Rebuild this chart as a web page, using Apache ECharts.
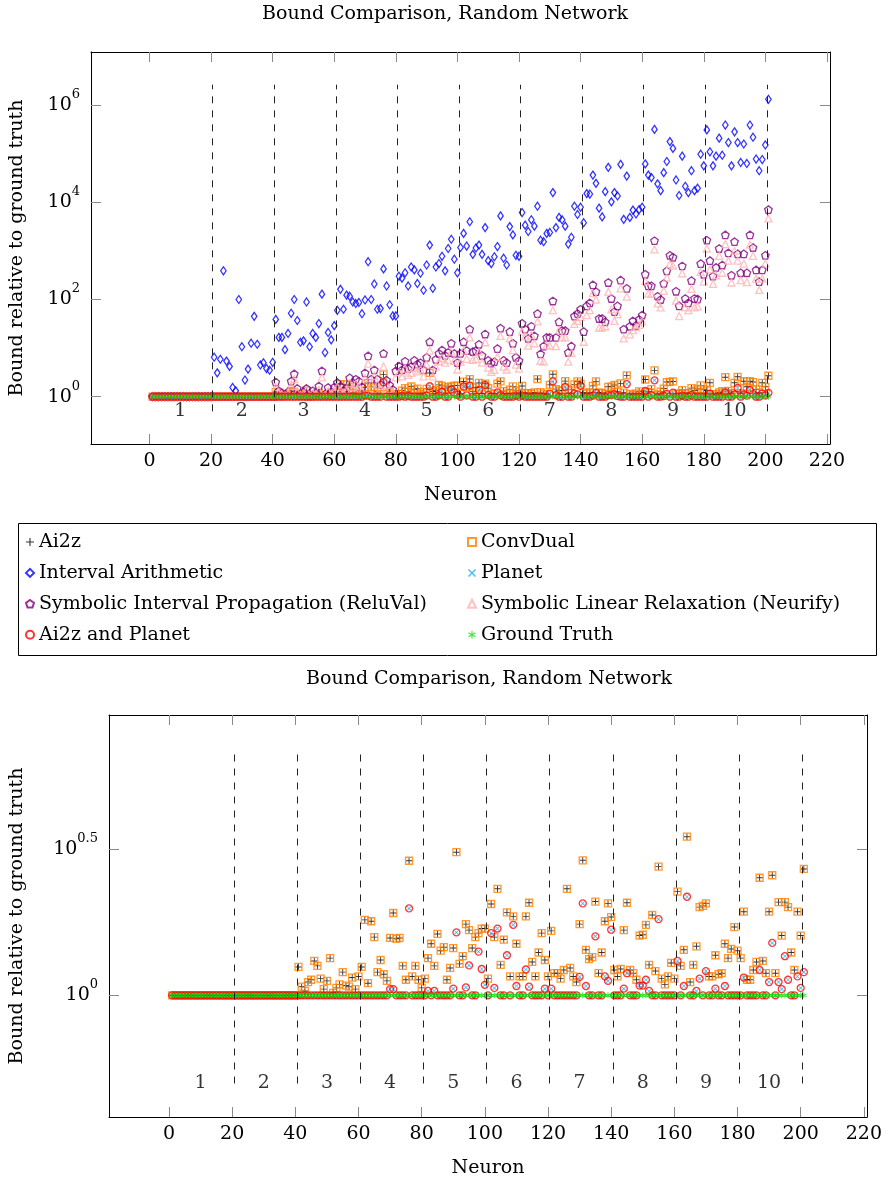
<!DOCTYPE html>
<html>
<head>
<meta charset="utf-8">
<script src="https://cdn.jsdelivr.net/npm/echarts@6/dist/echarts.min.js"></script>
<style>
  html, body { margin: 0; padding: 0; background: #ffffff; }
  #chart { width: 892px; height: 1184px; }
</style>
</head>
<body>
<div id="chart"></div>
<script>
// ---------------------------------------------------------------------------
// Bound on each neuron divided by the exact (ground-truth) bound.
// Neurons 1..201: ten hidden layers of 20 neurons, then the output neuron.
// ---------------------------------------------------------------------------
const neurons = Array.from({ length: 201 }, (_, i) => i + 1);

const layerNames   = ['1', '2', '3', '4', '5', '6', '7', '8', '9', '10'];
const layerCentres = [10, 30, 50, 70, 90, 110, 130, 150, 170, 190];
const layerBreaks  = [20.5, 40.5, 60.5, 80.5, 100.5, 120.5, 140.5, 160.5, 180.5, 200.5];

const xTicks       = [0, 20, 40, 60, 80, 100, 120, 140, 160, 180, 200, 220];
const topYTicks    = [1, 1e2, 1e4, 1e6];
const bottomYTicks = [1, Math.pow(10, 0.5)];

const groundTruth = [
  1,1,1,1,1,1,1,1,1,1,1,1,1,1,1,1,1,1,1,1,
  1,1,1,1,1,1,1,1,1,1,1,1,1,1,1,1,1,1,1,1,
  1,1,1,1,1,1,1,1,1,1,1,1,1,1,1,1,1,1,1,1,
  1,1,1,1,1,1,1,1,1,1,1,1,1,1,1,1,1,1,1,1,
  1,1,1,1,1,1,1,1,1,1,1,1,1,1,1,1,1,1,1,1,
  1,1,1,1,1,1,1,1,1,1,1,1,1,1,1,1,1,1,1,1,
  1,1,1,1,1,1,1,1,1,1,1,1,1,1,1,1,1,1,1,1,
  1,1,1,1,1,1,1,1,1,1,1,1,1,1,1,1,1,1,1,1,
  1,1,1,1,1,1,1,1,1,1,1,1,1,1,1,1,1,1,1,1,
  1,1,1,1,1,1,1,1,1,1,1,1,1,1,1,1,1,1,1,1,
  1
];

const intervalArithmetic = [
  1,1,1,1,1,1,1,1,1,1,1,1,1,1,1,1,1,1,1,1,
  6.5, 3.1, 5.9, 390, 5.4, 4.2, 1.55, 1.32, 100, 10.7, 2.2, 3.7, 12.6, 45, 12, 4.5, 5.0, 3.8, 3.5, 5.1,
  39, 16.6, 16.6, 9.3, 20, 52, 100, 37, 13.2, 14.1, 89, 10.7, 20, 16.6, 32, 129, 8.1, 21, 14.8, 29,
  60, 162, 63, 123, 117, 89, 83, 87, 51, 98, 600, 100, 209, 63, 65, 427, 190, 78, 46, 46,
  302, 275, 355, 190, 468, 407, 214, 347, 155, 513, 1318, 170, 468, 550, 776, 389, 1122, 1738, 676, 355,
  1175, 2291, 1259, 3981, 851, 1148, 1318, 851, 3020, 631, 550, 759, 1230, 5248, 708, 513, 3162, 2138, 813, 776,
  6166, 3388, 2512, 4365, 3236, 8318, 1660, 1549, 2291, 2399, 15849, 3020, 4898, 4365, 3236, 1380, 1905, 8318, 5623, 7943,
  3802, 15136, 14791, 36308, 24547, 7586, 5012, 16596, 52481, 10233, 15849, 13490, 60256, 4467, 34674, 4898, 6918, 5754, 7079, 7943,
  61660, 36308, 32359, 316228, 23988, 17378, 40738, 69183, 177828, 128825, 28840, 13804, 89125, 21380, 15849, 44668, 17378, 19498, 97724, 56234,
  309030, 109648, 56234, 89125, 208930, 93325, 389045, 169824, 56234, 281838, 169824, 66069, 158489, 63096, 389045, 218776, 77625, 44668, 75858, 151356,
  1318257
];

const reluVal = [
  1,1,1,1,1,1,1,1,1,1,1,1,1,1,1,1,1,1,1,1,
  1,1,1,1,1,1,1,1,1,1,1,1,1,1,1,1,1,1,1,1,
  2.0, 1.32, 1.2, 1.12, 1.26, 2.09, 2.95, 1.48, 1.15, 1.26, 1.48, 1.12, 1.32, 1.2, 1.66, 3.39, 1.12, 1.55, 1.26, 1.58,
  1.95, 1.66, 1.32, 1.51, 2.45, 1.95, 2.29, 2.09, 1.58, 3.09, 6.92, 2.29, 3.55, 2.29, 1.78, 7.76, 2.19, 1.74, 1.41, 3.39,
  4.27, 3.55, 5.37, 3.8, 4.17, 5.62, 4.68, 5.01, 3.55, 6.46, 13.5, 3.55, 5.89, 7.76, 9.12, 7.08, 8.13, 12.6, 7.76, 5.01,
  7.76, 13.5, 8.91, 24.5, 8.51, 8.91, 12.0, 7.08, 19.5, 5.62, 4.9, 5.25, 9.77, 25.7, 5.62, 5.01, 21.9, 12.6, 6.46, 5.5,
  32.4, 24.5, 15.8, 28.2, 17.8, 51.3, 7.59, 11.0, 16.6, 16.6, 93.3, 16.6, 34.7, 22.9, 22.9, 8.13, 11.0, 45.7, 51.3, 63.1,
  21.9, 74.1, 85.1, 200, 145, 40.7, 40.7, 34.7, 224, 105, 56.2, 74.1, 251, 24.5, 170, 28.2, 36.3, 29.5, 38.9, 47.9,
  331, 191, 191, 1622, 117, 100, 214, 389, 813, 741, 148, 74.1, 490, 105, 85.1, 245, 105, 102, 550, 331,
  1660, 631, 302, 457, 1122, 513, 2138, 912, 316, 1549, 871, 355, 871, 355, 2138, 1175, 407, 234, 407, 813,
  7079
];

const neurify = [
  1,1,1,1,1,1,1,1,1,1,1,1,1,1,1,1,1,1,1,1,
  1,1,1,1,1,1,1,1,1,1,1,1,1,1,1,1,1,1,1,1,
  1.58, 1.2, 1.12, 1.07, 1.15, 1.66, 2.29, 1.26, 1.1, 1.15, 1.32, 1.07, 1.17, 1.12, 1.38, 2.51, 1.07, 1.32, 1.15, 1.35,
  1.58, 1.41, 1.2, 1.32, 1.91, 1.58, 1.82, 1.66, 1.35, 2.4, 4.79, 1.82, 2.69, 1.78, 1.48, 4.17, 1.74, 1.45, 1.26, 2.51,
  3.16, 2.63, 3.8, 2.82, 3.09, 3.98, 3.31, 3.63, 2.63, 4.57, 8.91, 2.63, 4.17, 5.37, 6.31, 5.01, 5.75, 8.51, 5.5, 3.63,
  5.25, 8.91, 6.03, 16.6, 5.75, 6.03, 8.51, 5.01, 13.2, 3.98, 3.24, 3.55, 6.61, 17.8, 4.17, 3.63, 15.8, 9.12, 4.57, 3.8,
  21.9, 17.4, 11.2, 18.6, 12.6, 35.5, 5.5, 5.25, 11.5, 11.2, 60.3, 11.0, 23.4, 16.6, 16.6, 5.25, 7.94, 31.6, 36.3, 43.7,
  13.5, 47.9, 60.3, 135, 100, 26.3, 26.3, 28.2, 145, 63.1, 36.3, 50.1, 170, 15.8, 115, 19.1, 23.4, 26.9, 30.2, 35.5,
  240, 132, 132, 1072, 83.2, 69.2, 151, 282, 537, 501, 95.5, 45.7, 347, 69.2, 60.3, 166, 69.2, 72.4, 372, 234,
  1122, 417, 209, 316, 794, 355, 1380, 631, 224, 1000, 631, 251, 550, 229, 1349, 794, 269, 158, 269, 550,
  4677
];

const ai2z = [
  1,1,1,1,1,1,1,1,1,1,1,1,1,1,1,1,1,1,1,1,
  1,1,1,1,1,1,1,1,1,1,1,1,1,1,1,1,1,1,1,1,
  1.25, 1.07, 1.035, 1.11, 1.13, 1.31, 1.26, 1.14, 1.05, 1.12, 1.34, 1.02, 1.06, 1.09, 1.2, 1.08, 1.07, 1.15, 1.05, 1.16,
  1.25, 1.81, 1.1, 1.79, 1.58, 1.2, 1.32, 1.18, 1.12, 1.57, 1.91, 1.56, 1.57, 1.26, 1.13, 2.88, 1.16, 1.26, 1.13, 1.06,
  1.14, 1.34, 1.5, 1.26, 1.62, 1.42, 1.46, 1.13, 1.24, 1.45, 3.08, 1.28, 1.36, 1.75, 1.67, 1.45, 1.58, 1.63, 1.69, 1.69,
  1.14, 2.05, 1.58, 2.31, 1.27, 1.55, 1.92, 1.16, 1.86, 1.5, 1.16, 1.16, 1.86, 2.07, 1.3, 1.16, 1.4, 1.63, 1.32, 1.16,
  1.66, 1.19, 1.19, 1.14, 1.22, 2.31, 1.24, 1.16, 1.11, 1.75, 2.89, 1.43, 1.33, 1.35, 2.09, 1.19, 1.4, 1.79, 2.06, 1.85,
  1.22, 1.16, 1.23, 1.67, 2.07, 1.22, 1.19, 1.13, 1.6, 1.61, 1.74, 1.27, 1.88, 1.21, 2.75, 1.14, 1.09, 1.16, 1.29, 1.14,
  2.26, 1.26, 1.43, 3.48, 1.11, 1.27, 1.47, 2.0, 2.02, 2.06, 1.16, 1.16, 1.37, 1.18, 1.19, 1.5, 1.34, 1.44, 1.71, 1.42,
  1.34, 1.93, 1.13, 1.13, 1.22, 1.3, 2.52, 1.31, 1.19, 1.93, 2.57, 1.19, 2.08, 1.6, 2.08, 2.0, 1.4, 1.22, 1.93, 1.6,
  2.7
];

// ConvDual gives the same bound as Ai2z on every neuron of this network.
const convDual = ai2z.slice();

const planet = [
  1,1,1,1,1,1,1,1,1,1,1,1,1,1,1,1,1,1,1,1,
  1,1,1,1,1,1,1,1,1,1,1,1,1,1,1,1,1,1,1,1,
  1,1,1,1,1,1,1,1,1,1,1,1,1,1,1,1,1,1,1,1,
  1, 1, 1, 1, 1, 1, 1, 1, 1, 1.05, 1.05, 1, 1, 1, 1, 1.98, 1, 1, 1, 1,
  1, 1.035, 1, 1.035, 1, 1, 1, 1, 1, 1.054, 1.64, 1, 1, 1.064, 1.265, 1, 1, 1.41, 1.23, 1.086,
  1, 1.63, 1.06, 1.69, 1, 1, 1.37, 1, 1.74, 1.076, 1, 1, 1.225, 1.07, 1, 1, 1, 1, 1.054, 1,
  1.054, 1, 1, 1, 1, 1, 1, 1, 1, 1.156, 2.06, 1.076, 1, 1, 1.59, 1, 1, 1.16, 1.12, 1.675,
  1, 1, 1, 1.054, 1.19, 1, 1, 1, 1.08, 1.08, 1.13, 1.035, 1, 1, 1.82, 1, 1, 1, 1, 1,
  1.31, 1, 1.076, 2.17, 1, 1, 1.035, 1.14, 1, 1.21, 1, 1, 1.054, 1, 1, 1.076, 1, 1, 1, 1,
  1, 1.15, 1, 1, 1, 1, 1.22, 1, 1, 1.11, 1.51, 1, 1.11, 1.05, 1.36, 1.13, 1, 1, 1.16, 1.06,
  1.2
];

// Running Ai2z and Planet together keeps Planet's (tighter) bound.
const ai2zAndPlanet = planet.slice();

// ---------------------------------------------------------------------------
(function () {
  const FONT = 'DejaVu Serif';
  const FS = 19;
  const BLACK = '#000000';

  const SYM_PLUS = 'path://M-1,-0.14 L1,-0.14 L1,0.14 L-1,0.14 Z M-0.14,-1 L0.14,-1 L0.14,1 L-0.14,1 Z';
  const SYM_CROSS = 'path://M-1,-0.75 L-0.75,-1 L1,0.75 L0.75,1 Z M0.75,-1 L1,-0.75 L-0.75,1 L-1,0.75 Z';
  const SYM_PENTAGON = 'path://M0,-1 L0.951,-0.309 L0.588,0.809 L-0.588,0.809 L-0.951,-0.309 Z';
  const SYM_ASTERISK = 'path://M-0.13,-1 L0.13,-1 L0.13,1 L-0.13,1 Z ' +
    'M0.8,0.62 L-0.93,-0.38 L-0.8,-0.62 L0.93,0.38 Z ' +
    'M0.93,-0.38 L-0.8,0.62 L-0.93,0.38 L0.8,-0.62 Z';

  const methods = {
    ai2z:     { name: 'Ai2z', data: ai2z, symbol: SYM_PLUS, size: 6.5, fill: BLACK },
    convDual: { name: 'ConvDual', data: convDual, symbol: 'rect', size: 7, stroke: '#ff8000' },
    interval: { name: 'Interval Arithmetic', data: intervalArithmetic, symbol: 'diamond', size: [5.5, 8], stroke: '#0000ff' },
    planet:   { name: 'Planet', data: planet, symbol: SYM_CROSS, size: 4.5, fill: '#10aff0' },
    reluVal:  { name: 'Symbolic Interval Propagation (ReluVal)', data: reluVal, symbol: SYM_PENTAGON, size: 7.5, stroke: '#800080' },
    neurify:  { name: 'Symbolic Linear Relaxation (Neurify)', data: neurify, symbol: 'triangle', size: 7, stroke: '#ffb3b3' },
    combined: { name: 'Ai2z and Planet', data: ai2zAndPlanet, symbol: 'circle', size: 7, stroke: '#ff0000' },
    truth:    { name: 'Ground Truth', data: groundTruth, symbol: SYM_ASTERISK, size: 6, fill: '#00e000' }
  };

  const upperKeys = ['ai2z', 'convDual', 'interval', 'planet', 'reluVal', 'neurify', 'combined', 'truth'];
  const lowerKeys = ['ai2z', 'convDual', 'planet', 'combined', 'truth'];

  // Vertical extent: separators run from 0.5 to twice the largest bound,
  // and the axis adds 10% of that (log) span on each side.
  function logExtent(keys) {
    let hi = 0.5;
    keys.forEach(k => methods[k].data.forEach(v => { if (v > hi) hi = v; }));
    const lo = Math.log10(0.5), up = Math.log10(2 * hi), pad = 0.1 * (up - lo);
    return { sepTop: 2 * hi, min: Math.pow(10, lo - pad), max: Math.pow(10, up + pad) };
  }

  const textBase = { fontFamily: FONT, fontSize: FS, color: BLACK };
  const tickStyle = { show: true, inside: true, length: 10, lineStyle: { color: '#8a8a8a', width: 1 } };
  const frameLine = { show: true, onZero: false, lineStyle: { color: BLACK, width: 1 } };

  function powerLabel(v) {
    const e = Math.round(Math.log10(v) * 10) / 10;
    return '{b|10}{e|' + e + '}';
  }

  function buildPanel(g, keys, grid, yTicks, yNameGap) {
    const ext = logExtent(keys);
    const xi = g * 2, yi = g * 2;
    const xAxes = [
      { type: 'value', gridIndex: g, min: -19, max: 221, position: 'bottom',
        axisLine: frameLine, splitLine: { show: false },
        axisTick: Object.assign({ customValues: xTicks }, tickStyle),
        axisLabel: Object.assign({ customValues: xTicks, margin: 8 }, textBase),
        name: 'Neuron', nameLocation: 'middle', nameGap: 42, nameTextStyle: textBase },
      { type: 'value', gridIndex: g, min: -19, max: 221, position: 'top',
        axisLine: frameLine, splitLine: { show: false },
        axisTick: Object.assign({ customValues: xTicks }, tickStyle),
        axisLabel: { show: false } }
    ];
    const yAxes = [
      { type: 'log', logBase: 10, gridIndex: g, min: ext.min, max: ext.max, position: 'left',
        axisLine: frameLine, splitLine: { show: false }, minorTick: { show: false },
        axisTick: Object.assign({ customValues: yTicks }, tickStyle),
        axisLabel: {
          customValues: yTicks, margin: 11, formatter: powerLabel,
          rich: {
            b: { fontFamily: FONT, fontSize: FS, color: BLACK, lineHeight: 34 },
            e: { fontFamily: FONT, fontSize: 13, color: BLACK, lineHeight: 14, verticalAlign: 'top' }
          }
        },
        name: 'Bound relative to ground truth', nameLocation: 'middle', nameRotate: 90,
        nameGap: yNameGap, nameTextStyle: textBase },
      { type: 'log', logBase: 10, gridIndex: g, min: ext.min, max: ext.max, position: 'right',
        axisLine: frameLine, splitLine: { show: false }, minorTick: { show: false },
        axisTick: Object.assign({ customValues: yTicks }, tickStyle),
        axisLabel: { show: false } }
    ];

    const series = keys.map(k => {
      const m = methods[k];
      const hollow = !!m.stroke;
      return {
        type: 'scatter', name: m.name, xAxisIndex: xi, yAxisIndex: yi,
        symbol: m.symbol, symbolSize: m.size,
        itemStyle: hollow
          ? { color: 'rgba(255,255,255,0)', borderColor: m.stroke, borderWidth: 1.3 }
          : { color: m.fill, borderWidth: 0 },
        emphasis: { disabled: true },
        data: neurons.map((n, i) => [n, m.data[i]])
      };
    });

    // Layer numbers and dashed layer separators.
    series.push({
      type: 'scatter', name: 'layers', xAxisIndex: xi, yAxisIndex: yi,
      symbolSize: 0, silent: true, z: 1,
      label: { show: true, position: 'inside', formatter: '{b}', fontFamily: FONT, fontSize: FS, color: BLACK },
      data: layerCentres.map((x, i) => ({ name: layerNames[i], value: [x, 0.5] })),
      markLine: {
        silent: true, symbol: ['none', 'none'], label: { show: false },
        lineStyle: { type: [7, 7], color: '#222222', width: 1 },
        emphasis: { disabled: true },
        data: layerBreaks.map(x => [{ coord: [x, 0.5] }, { coord: [x, ext.sepTop] }])
      }
    });

    return { xAxes, yAxes, series, grid };
  }

  const upper = buildPanel(0, upperKeys, { left: 91, top: 52, width: 739, height: 392 }, topYTicks, 64);
  const lower = buildPanel(1, lowerKeys, { left: 109, top: 715, width: 758, height: 402 }, bottomYTicks, 82);

  const legendText = { fontFamily: FONT, fontSize: FS, color: BLACK, lineHeight: 20 };
  const legendCommon = {
    orient: 'vertical', top: 532, itemGap: 10.9, itemWidth: 8, itemHeight: 8,
    padding: 0, selectedMode: false, textStyle: legendText
  };
  const titleStyle = { text: 'Bound Comparison, Random Network', font: FS + 'px "' + FONT + '"', fill: BLACK, align: 'center', verticalAlign: 'middle' };

  const option = {
    animation: false,
    backgroundColor: '#ffffff',
    grid: [upper.grid, lower.grid],
    xAxis: upper.xAxes.concat(lower.xAxes),
    yAxis: upper.yAxes.concat(lower.yAxes),
    legend: [
      Object.assign({ left: 25, data: ['Ai2z', 'Interval Arithmetic', 'Symbolic Interval Propagation (ReluVal)', 'Ai2z and Planet'] }, legendCommon),
      Object.assign({ left: 467, data: ['ConvDual', 'Planet', 'Symbolic Linear Relaxation (Neurify)', 'Ground Truth'] }, legendCommon)
    ],
    graphic: [
      { type: 'text', x: 445, y: 14, silent: true, style: Object.assign({}, titleStyle) },
      { type: 'text', x: 489, y: 679, silent: true, style: Object.assign({}, titleStyle) },
      { type: 'rect', silent: true, z: -1,
        shape: { x: 18.5, y: 523.5, width: 858, height: 132 },
        style: { fill: 'none', stroke: BLACK, lineWidth: 1 } }
    ],
    series: upper.series.concat(lower.series)
  };

  const chart = echarts.init(document.getElementById('chart'), null, { renderer: 'canvas' });
  chart.setOption(option);
})();
</script>
</body>
</html>
